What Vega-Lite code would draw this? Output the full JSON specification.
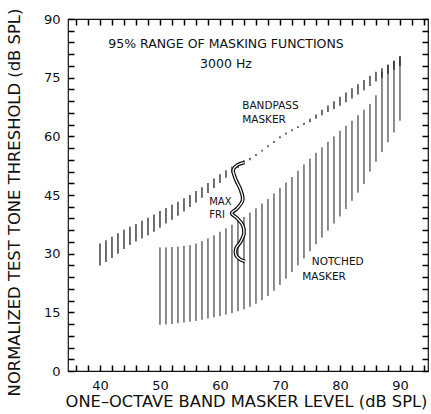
{
  "$schema": "https://vega.github.io/schema/vega-lite/v6.json",
  "width": 360,
  "height": 352,
  "autosize": {"type": "none"},
  "padding": {"left": 68, "top": 19, "right": 3, "bottom": 43},
  "background": "white",
  "config": {
    "view": {"stroke": "#111", "strokeWidth": 1.2},
    "font": "DejaVu Sans",
    "axis": {"domain": false, "grid": false, "labelColor": "#111", "titleColor": "#111", "labelFont": "DejaVu Sans", "titleFont": "DejaVu Sans", "titleFontWeight": "normal"}
  },
  "datasets": {
    "bands": [
      {"series": "bandpass", "level": 40, "lo": 27.0, "hi": 32.6},
      {"series": "bandpass", "level": 41, "lo": 27.9, "hi": 33.4},
      {"series": "bandpass", "level": 42, "lo": 28.9, "hi": 34.3},
      {"series": "bandpass", "level": 43, "lo": 30.0, "hi": 35.2},
      {"series": "bandpass", "level": 44, "lo": 31.2, "hi": 36.1},
      {"series": "bandpass", "level": 45, "lo": 32.2, "hi": 36.9},
      {"series": "bandpass", "level": 46, "lo": 33.1, "hi": 37.6},
      {"series": "bandpass", "level": 47, "lo": 33.9, "hi": 38.4},
      {"series": "bandpass", "level": 48, "lo": 34.7, "hi": 39.2},
      {"series": "bandpass", "level": 49, "lo": 35.6, "hi": 40.0},
      {"series": "bandpass", "level": 50, "lo": 36.6, "hi": 40.9},
      {"series": "bandpass", "level": 51, "lo": 37.7, "hi": 41.7},
      {"series": "bandpass", "level": 52, "lo": 38.7, "hi": 42.5},
      {"series": "bandpass", "level": 53, "lo": 39.7, "hi": 43.3},
      {"series": "bandpass", "level": 54, "lo": 40.8, "hi": 44.2},
      {"series": "bandpass", "level": 55, "lo": 41.9, "hi": 45.0},
      {"series": "bandpass", "level": 56, "lo": 43.1, "hi": 46.0},
      {"series": "bandpass", "level": 57, "lo": 44.3, "hi": 47.0},
      {"series": "bandpass", "level": 58, "lo": 45.5, "hi": 48.1},
      {"series": "bandpass", "level": 59, "lo": 46.8, "hi": 49.2},
      {"series": "bandpass", "level": 60, "lo": 48.1, "hi": 50.3},
      {"series": "bandpass", "level": 61, "lo": 49.4, "hi": 51.3},
      {"series": "bandpass", "level": 62, "lo": 50.7, "hi": 52.3},
      {"series": "bandpass", "level": 63, "lo": 51.9, "hi": 53.2},
      {"series": "bandpass", "level": 64, "lo": 52.9, "hi": 53.9},
      {"series": "bandpass", "level": 65, "lo": 53.9, "hi": 54.5},
      {"series": "bandpass", "level": 66, "lo": 55.0, "hi": 55.5},
      {"series": "bandpass", "level": 67, "lo": 56.1, "hi": 56.6},
      {"series": "bandpass", "level": 68, "lo": 57.2, "hi": 57.7},
      {"series": "bandpass", "level": 69, "lo": 58.3, "hi": 58.8},
      {"series": "bandpass", "level": 70, "lo": 59.5, "hi": 60.0},
      {"series": "bandpass", "level": 71, "lo": 60.5, "hi": 61.0},
      {"series": "bandpass", "level": 72, "lo": 61.3, "hi": 61.8},
      {"series": "bandpass", "level": 73, "lo": 62.1, "hi": 62.6},
      {"series": "bandpass", "level": 74, "lo": 62.9, "hi": 63.5},
      {"series": "bandpass", "level": 75, "lo": 63.6, "hi": 64.5},
      {"series": "bandpass", "level": 76, "lo": 64.5, "hi": 65.6},
      {"series": "bandpass", "level": 77, "lo": 65.4, "hi": 66.8},
      {"series": "bandpass", "level": 78, "lo": 66.2, "hi": 67.9},
      {"series": "bandpass", "level": 79, "lo": 67.0, "hi": 69.0},
      {"series": "bandpass", "level": 80, "lo": 67.8, "hi": 70.1},
      {"series": "bandpass", "level": 81, "lo": 68.7, "hi": 71.2},
      {"series": "bandpass", "level": 82, "lo": 69.7, "hi": 72.3},
      {"series": "bandpass", "level": 83, "lo": 70.7, "hi": 73.3},
      {"series": "bandpass", "level": 84, "lo": 71.8, "hi": 74.4},
      {"series": "bandpass", "level": 85, "lo": 72.9, "hi": 75.5},
      {"series": "bandpass", "level": 86, "lo": 74.0, "hi": 76.5},
      {"series": "bandpass", "level": 87, "lo": 75.0, "hi": 77.4},
      {"series": "bandpass", "level": 88, "lo": 76.0, "hi": 78.3},
      {"series": "bandpass", "level": 89, "lo": 77.0, "hi": 79.3},
      {"series": "bandpass", "level": 90, "lo": 78.0, "hi": 80.5},
      {"series": "notched", "level": 50, "lo": 11.8, "hi": 31.6},
      {"series": "notched", "level": 51, "lo": 11.9, "hi": 31.6},
      {"series": "notched", "level": 52, "lo": 12.0, "hi": 31.7},
      {"series": "notched", "level": 53, "lo": 12.2, "hi": 31.8},
      {"series": "notched", "level": 54, "lo": 12.4, "hi": 32.0},
      {"series": "notched", "level": 55, "lo": 12.6, "hi": 32.2},
      {"series": "notched", "level": 56, "lo": 12.8, "hi": 32.6},
      {"series": "notched", "level": 57, "lo": 13.1, "hi": 33.2},
      {"series": "notched", "level": 58, "lo": 13.4, "hi": 33.9},
      {"series": "notched", "level": 59, "lo": 13.7, "hi": 34.7},
      {"series": "notched", "level": 60, "lo": 14.0, "hi": 35.6},
      {"series": "notched", "level": 61, "lo": 14.4, "hi": 36.5},
      {"series": "notched", "level": 62, "lo": 14.8, "hi": 37.4},
      {"series": "notched", "level": 63, "lo": 15.3, "hi": 38.4},
      {"series": "notched", "level": 64, "lo": 15.8, "hi": 39.4},
      {"series": "notched", "level": 65, "lo": 16.4, "hi": 40.5},
      {"series": "notched", "level": 66, "lo": 17.2, "hi": 41.6},
      {"series": "notched", "level": 67, "lo": 18.1, "hi": 42.8},
      {"series": "notched", "level": 68, "lo": 19.2, "hi": 44.0},
      {"series": "notched", "level": 69, "lo": 20.5, "hi": 45.4},
      {"series": "notched", "level": 70, "lo": 22.0, "hi": 46.8},
      {"series": "notched", "level": 71, "lo": 23.6, "hi": 48.2},
      {"series": "notched", "level": 72, "lo": 25.3, "hi": 49.6},
      {"series": "notched", "level": 73, "lo": 27.0, "hi": 51.2},
      {"series": "notched", "level": 74, "lo": 28.8, "hi": 52.8},
      {"series": "notched", "level": 75, "lo": 30.6, "hi": 54.3},
      {"series": "notched", "level": 76, "lo": 32.4, "hi": 55.8},
      {"series": "notched", "level": 77, "lo": 34.1, "hi": 57.2},
      {"series": "notched", "level": 78, "lo": 35.9, "hi": 58.6},
      {"series": "notched", "level": 79, "lo": 37.7, "hi": 60.0},
      {"series": "notched", "level": 80, "lo": 39.5, "hi": 61.4},
      {"series": "notched", "level": 81, "lo": 41.4, "hi": 62.7},
      {"series": "notched", "level": 82, "lo": 43.5, "hi": 64.0},
      {"series": "notched", "level": 83, "lo": 45.6, "hi": 65.4},
      {"series": "notched", "level": 84, "lo": 47.8, "hi": 66.8},
      {"series": "notched", "level": 85, "lo": 51.0, "hi": 68.3},
      {"series": "notched", "level": 86, "lo": 53.5, "hi": 70.5},
      {"series": "notched", "level": 87, "lo": 56.0, "hi": 76.5},
      {"series": "notched", "level": 88, "lo": 58.5, "hi": 78.3},
      {"series": "notched", "level": 89, "lo": 61.0, "hi": 79.3},
      {"series": "notched", "level": 90, "lo": 64.0, "hi": 80.5}
    ],
    "brace": [
      {"i": 1, "level": 64.05, "thr": 53.27},
      {"i": 2, "level": 62.88, "thr": 52.67},
      {"i": 3, "level": 62.2, "thr": 51.4},
      {"i": 4, "level": 62.67, "thr": 48.84},
      {"i": 5, "level": 63.45, "thr": 46.28},
      {"i": 6, "level": 63.78, "thr": 43.72},
      {"i": 7, "level": 62.88, "thr": 41.6},
      {"i": 8, "level": 61.95, "thr": 40.32},
      {"i": 9, "level": 62.88, "thr": 39.05},
      {"i": 10, "level": 63.78, "thr": 37.33},
      {"i": 11, "level": 64.0, "thr": 35.21},
      {"i": 12, "level": 63.45, "thr": 33.06},
      {"i": 13, "level": 62.67, "thr": 31.37},
      {"i": 14, "level": 62.67, "thr": 29.66},
      {"i": 15, "level": 63.33, "thr": 28.56},
      {"i": 16, "level": 64.17, "thr": 28.0}
    ],
    "notes": [
      {"level": 61.0, "thr": 83.6, "note": "95% RANGE OF MASKING FUNCTIONS", "kind": "head"},
      {"level": 61.0, "thr": 78.5, "note": "3000 Hz", "kind": "head"},
      {"level": 63.7, "thr": 67.8, "note": "BANDPASS", "kind": "label"},
      {"level": 63.7, "thr": 64.2, "note": "MASKER", "kind": "label"},
      {"level": 58.2, "thr": 43.2, "note": "MAX", "kind": "small"},
      {"level": 58.2, "thr": 39.9, "note": "FRI", "kind": "small"},
      {"level": 75.3, "thr": 27.9, "note": "NOTCHED", "kind": "label"},
      {"level": 73.7, "thr": 24.0, "note": "MASKER", "kind": "label"}
    ]
  },
  "resolve": {"axis": {"x": "independent", "y": "independent"}},
  "layer": [
    {
      "data": {"name": "bands"},
      "transform": [{"filter": "datum.series === 'bandpass'"}],
      "mark": {"type": "rule", "color": "#1a1a1a", "strokeWidth": 1.25},
      "encoding": {
        "x": {"field": "level", "type": "quantitative",
          "scale": {"domain": [34.67, 94.67], "nice": false, "zero": false},
          "axis": {"orient": "bottom", "title": "ONE\u2013OCTAVE BAND MASKER LEVEL (dB SPL)", "zindex": 1,
            "values": [36, 38, 40, 42, 44, 46, 48, 50, 52, 54, 56, 58, 60, 62, 64, 66, 68, 70, 72, 74, 76, 78, 80, 82, 84, 86, 88, 90, 92, 94],
            "labelExpr": "datum.value % 10 === 0 ? datum.label : ''",
            "ticks": true, "tickColor": "#000", "tickWidth": 1.5, "tickSize": -6,
            "labelPadding": 14, "labelFontSize": 13, "labelFlush": false,
            "titleFontSize": 16.3, "titleX": 178, "titleY": 30, "titleBaseline": "middle", "titleAlign": "center"}},
        "y": {"field": "lo", "type": "quantitative",
          "scale": {"domain": [0, 90], "nice": false, "zero": false},
          "axis": {"orient": "left", "title": "NORMALIZED TEST TONE THRESHOLD (dB SPL)", "zindex": 1,
            "values": [0, 3, 6, 9, 12, 15, 18, 21, 24, 27, 30, 33, 36, 39, 42, 45, 48, 51, 54, 57, 60, 63, 66, 69, 72, 75, 78, 81, 84, 87, 90],
            "labelExpr": "datum.value % 15 === 0 ? datum.label : ''",
            "ticks": true, "tickColor": "#000", "tickWidth": 1.5, "tickSize": -6,
            "labelPadding": 14, "labelFontSize": 13, "labelFlush": false,
            "titleFontSize": 16.4, "titleAngle": -90, "titleX": -54, "titleY": 183, "titleBaseline": "middle", "titleAlign": "center"}},
        "y2": {"field": "hi"}
      }
    },
    {
      "data": {"name": "bands"},
      "transform": [{"filter": "datum.series === 'notched'"}],
      "mark": {"type": "rule", "color": "#1a1a1a", "strokeWidth": 1},
      "encoding": {
        "x": {"field": "level", "type": "quantitative", "axis": null},
        "y": {"field": "lo", "type": "quantitative", "axis": null},
        "y2": {"field": "hi"}
      }
    },
    {
      "data": {"name": "brace"},
      "mark": {"type": "line", "color": "#111", "strokeWidth": 3.8, "interpolate": "catmull-rom"},
      "encoding": {
        "x": {"field": "level", "type": "quantitative",
          "axis": {"orient": "top", "title": null, "labels": false, "zindex": 1,
            "values": [36, 38, 40, 42, 44, 46, 48, 50, 52, 54, 56, 58, 60, 62, 64, 66, 68, 70, 72, 74, 76, 78, 80, 82, 84, 86, 88, 90, 92, 94],
            "ticks": true, "tickColor": "#000", "tickWidth": 1.5, "tickSize": -6}},
        "y": {"field": "thr", "type": "quantitative",
          "axis": {"orient": "right", "title": null, "labels": false, "zindex": 1,
            "values": [0, 3, 6, 9, 12, 15, 18, 21, 24, 27, 30, 33, 36, 39, 42, 45, 48, 51, 54, 57, 60, 63, 66, 69, 72, 75, 78, 81, 84, 87, 90],
            "ticks": true, "tickColor": "#000", "tickWidth": 1.5, "tickSize": -6}},
        "order": {"field": "i", "type": "quantitative"}
      }
    },
    {
      "data": {"name": "brace"},
      "mark": {"type": "line", "color": "white", "strokeWidth": 1.3, "interpolate": "catmull-rom"},
      "encoding": {
        "x": {"field": "level", "type": "quantitative", "axis": null},
        "y": {"field": "thr", "type": "quantitative", "axis": null},
        "order": {"field": "i", "type": "quantitative"}
      }
    },
    {
      "data": {"name": "notes"},
      "transform": [{"filter": "datum.kind === 'head'"}],
      "mark": {"type": "text", "color": "#111", "baseline": "middle", "align": "center", "fontSize": 12.5},
      "encoding": {
        "x": {"field": "level", "type": "quantitative", "axis": null},
        "y": {"field": "thr", "type": "quantitative", "axis": null},
        "text": {"field": "note"}
      }
    },
    {
      "data": {"name": "notes"},
      "transform": [{"filter": "datum.kind === 'label'"}],
      "mark": {"type": "text", "color": "#111", "baseline": "middle", "align": "left", "fontSize": 10.5},
      "encoding": {
        "x": {"field": "level", "type": "quantitative", "axis": null},
        "y": {"field": "thr", "type": "quantitative", "axis": null},
        "text": {"field": "note"}
      }
    },
    {
      "data": {"name": "notes"},
      "transform": [{"filter": "datum.kind === 'small'"}],
      "mark": {"type": "text", "color": "#111", "baseline": "middle", "align": "left", "fontSize": 10},
      "encoding": {
        "x": {"field": "level", "type": "quantitative", "axis": null},
        "y": {"field": "thr", "type": "quantitative", "axis": null},
        "text": {"field": "note"}
      }
    }
  ]
}
